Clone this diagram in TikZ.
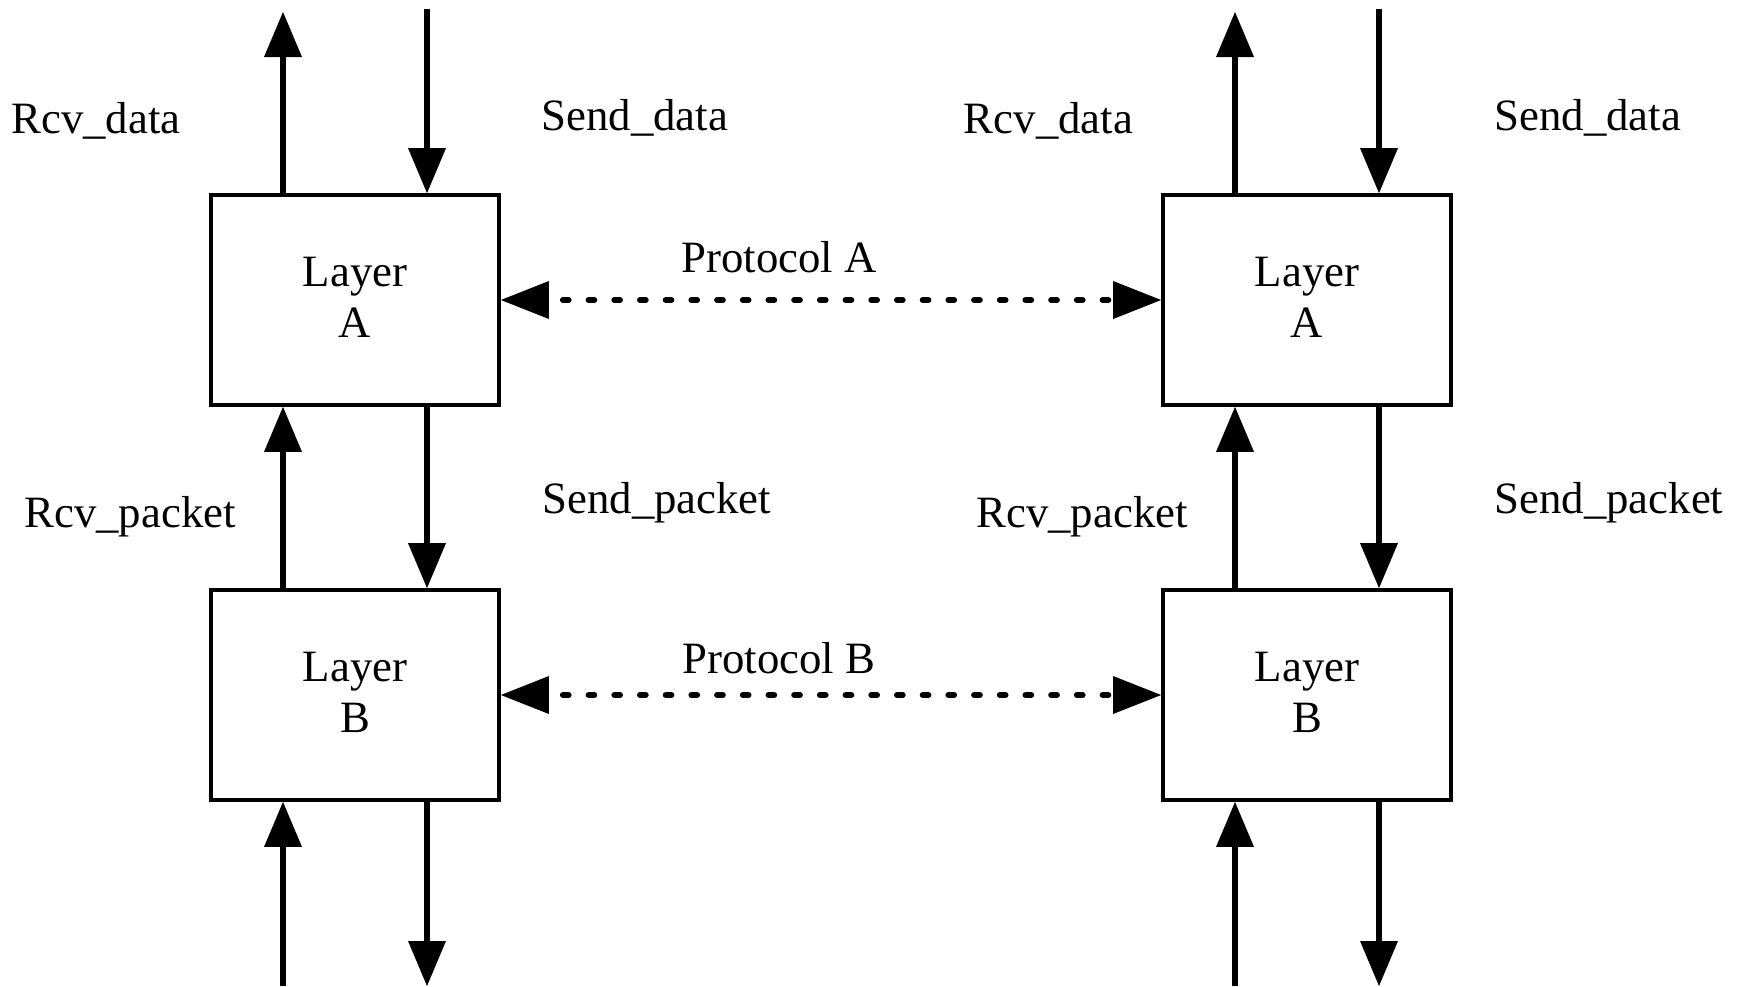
\documentclass[tikz,border=0pt]{standalone}
\usepackage{fontspec}
\setmainfont{Liberation Serif}
\usetikzlibrary{arrows.meta}

\begin{document}
\begin{tikzpicture}[x=0.5pt,y=-0.5pt,
  lbl/.style={font=\fontsize{22.4}{25.5}\selectfont, inner sep=0pt, anchor=base west},
  layer/.style={draw, line width=1.9pt, minimum width=144pt, minimum height=105pt,
    inner sep=0pt, align=center, text depth=2.6pt, font=\fontsize{22.4}{25.5}\selectfont},
  flow/.style={line width=3.2pt, -{Triangle[length=22.5pt,width=19pt,line width=0pt]}},
  proto/.style={line width=3pt, line cap=round,
    dash pattern=on 2.85pt off 10pt, dash phase=5.85pt,
    {Triangle[length=24pt,width=19pt,line width=0pt]}-{Triangle[length=24pt,width=19pt,line width=0pt]}}
]
\useasboundingbox (0,0) rectangle (1744,986);

% the four layer boxes
\node[layer] (LA1) at (355,300) {Layer\\A};
\node[layer] (LB1) at (355,695) {Layer\\B};
\node[layer] (LA2) at (1307,300) {Layer\\A};
\node[layer] (LB2) at (1307,695) {Layer\\B};

% free ends of the vertical flows
\coordinate (LtopUp) at (283,12);
\coordinate (LtopDn) at (427,9);
\coordinate (LbotUp) at (283,986);
\coordinate (LbotDn) at (427,986);
\coordinate (RtopUp) at (1235,12);
\coordinate (RtopDn) at (1379,9);
\coordinate (RbotUp) at (1235,986);
\coordinate (RbotDn) at (1379,986);

% left stack
\draw[flow] ([xshift=-36pt]LA1.north) -- (LtopUp);
\draw[flow] (LtopDn) -- ([xshift=36pt]LA1.north);
\draw[flow] ([xshift=-36pt]LB1.north) -- ([xshift=-36pt]LA1.south);
\draw[flow] ([xshift=36pt]LA1.south) -- ([xshift=36pt]LB1.north);
\draw[flow] (LbotUp) -- ([xshift=-36pt]LB1.south);
\draw[flow] ([xshift=36pt]LB1.south) -- (LbotDn);

% right stack
\draw[flow] ([xshift=-36pt]LA2.north) -- (RtopUp);
\draw[flow] (RtopDn) -- ([xshift=36pt]LA2.north);
\draw[flow] ([xshift=-36pt]LB2.north) -- ([xshift=-36pt]LA2.south);
\draw[flow] ([xshift=36pt]LA2.south) -- ([xshift=36pt]LB2.north);
\draw[flow] (RbotUp) -- ([xshift=-36pt]LB2.south);
\draw[flow] ([xshift=36pt]LB2.south) -- (RbotDn);

% peer protocols
\draw[proto] (LA1.east) -- (LA2.west);
\draw[proto] (LB1.east) -- (LB2.west);

% labels
\node[lbl] (rd1) at (11,133) {Rcv\_data};
\node[lbl] (sd1) at (541,130.5) {Send\_data};
\node[lbl] (rp1) at (24,527) {Rcv\_packet};
\node[lbl] (sp1) at (542,513.5) {Send\_packet};
\node[lbl] (pa) at (681,272.5) {Protocol A};
\node[lbl] (pb) at (682,673) {Protocol B};
\node[lbl] (rd2) at (963.5,133) {Rcv\_data};
\node[lbl] (sd2) at (1494,130.5) {Send\_data};
\node[lbl] (rp2) at (976,527) {Rcv\_packet};
\node[lbl] (sp2) at (1494,513) {Send\_packet};
\end{tikzpicture}
\end{document}
